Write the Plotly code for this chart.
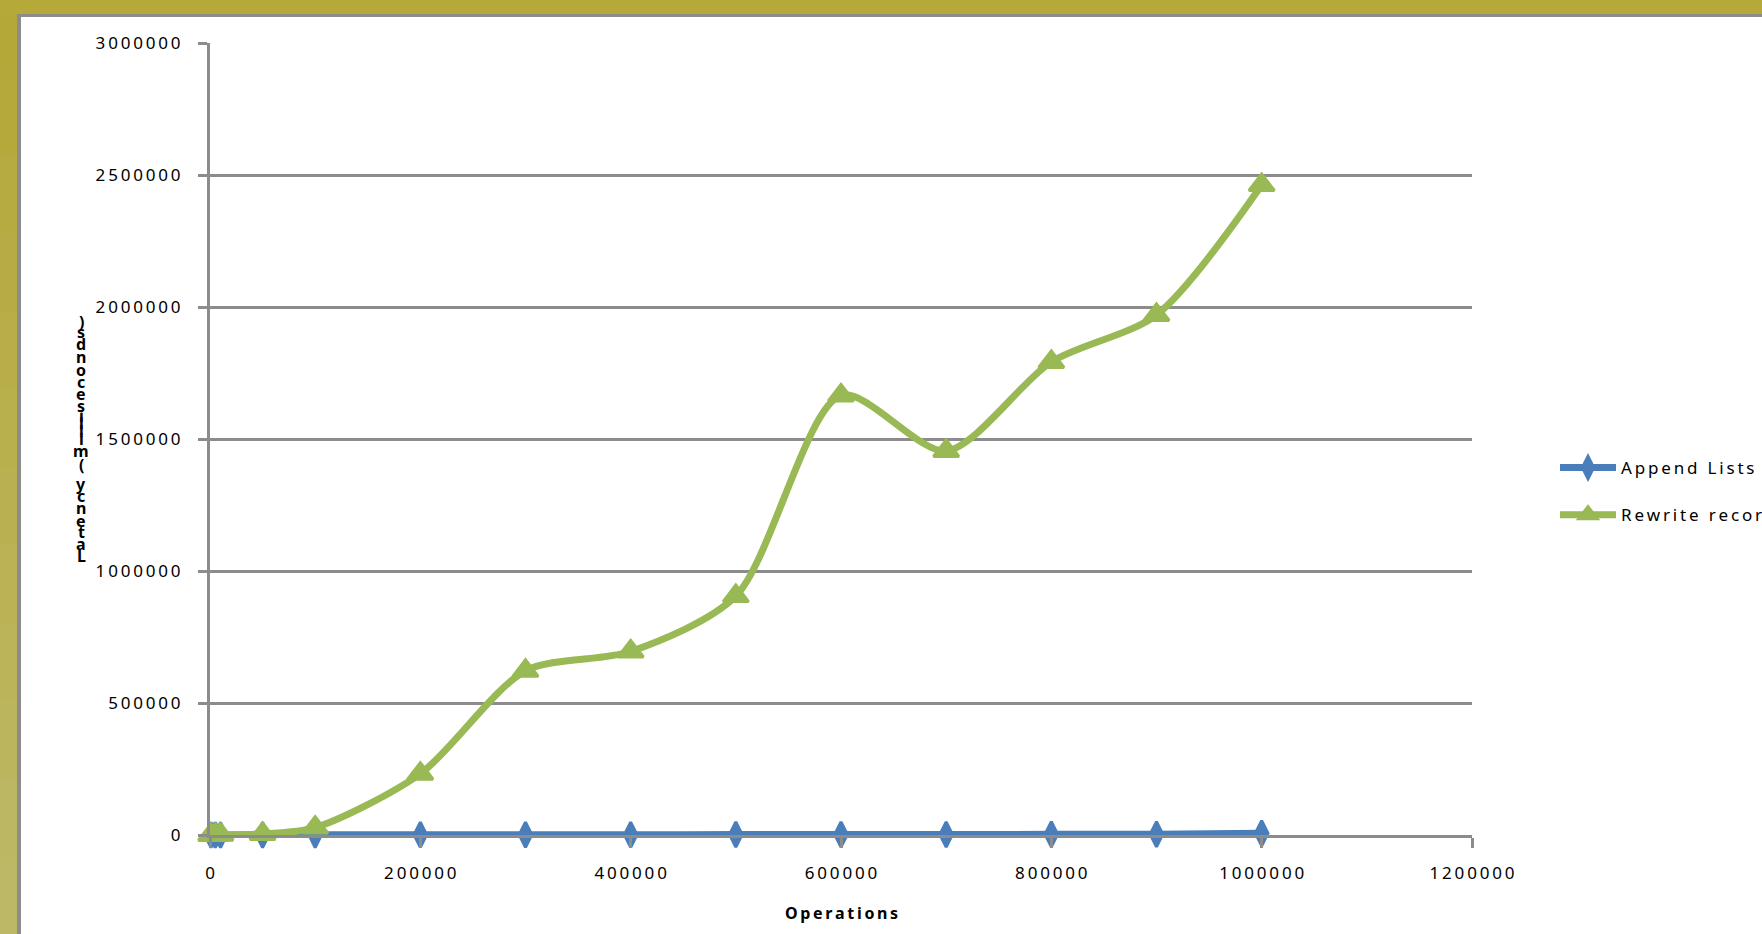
import plotly.graph_objects as go

# ---------------- data ----------------
operations = [1000, 5000, 10000, 50000, 100000, 200000, 300000, 400000,
              500000, 600000, 700000, 800000, 900000, 1000000]
append_lists = [0, 0, 0, 0, 500, 800, 1000, 1200, 1500, 1800, 2000, 2500, 3000, 7000]
rewrite_records = [0, 0, 1000, 4000, 28000, 232000, 622000, 695000, 905000,
                   1665000, 1455000, 1792000, 1970000, 2462000]
series_names = ["Append Lists", "Rewrite records"]
x_tick_vals = [0, 200000, 400000, 600000, 800000, 1000000, 1200000]
y_tick_vals = [0, 500000, 1000000, 1500000, 2000000, 2500000, 3000000]
x_title = "Operations"
y_title = "Latency (milliseconds)"

# ---------------- layout geometry ----------------
W, H = 1762, 934
ML, MR, MT, MB = 210, 290, 43, 99
PW, PH = W - ML - MR, H - MT - MB
GRAY = "#8C8C8C"
BLUE = "#4A7EBB"
GREEN = "#98B954"
FONT = "Noto Sans"


def spaced(s, sep="\u2009"):
    return sep.join(s)


def px2x(px):
    return (px - ML) / PW


def py2y(py):
    return (H - MB - py) / PH


fig = go.Figure()

fig.add_trace(go.Scatter(
    x=operations, y=append_lists, name=spaced(series_names[0]),
    mode="lines+markers", line=dict(color=BLUE, width=7, shape="spline", smoothing=0.8),
    marker=dict(symbol="diamond-tall", size=18, color=BLUE, line=dict(color=BLUE, width=3)),
    cliponaxis=False, legendgroup="a"))
fig.add_trace(go.Scatter(
    x=operations, y=rewrite_records, name=spaced(series_names[1]),
    mode="lines+markers", line=dict(color=GREEN, width=7, shape="spline", smoothing=0.8),
    marker=dict(symbol="triangle-up", size=22, color=GREEN, line=dict(color=GREEN, width=3)),
    cliponaxis=False, legendgroup="b"))

shapes = []
# left gold band with gentle gradient
top_c = (0xB4, 0xA8, 0x38)
bot_c = (0xBD, 0xB8, 0x66)
n = 12
for i in range(n):
    t = i / (n - 1)
    c = tuple(round(top_c[k] + (bot_c[k] - top_c[k]) * t) for k in range(3))
    shapes.append(dict(type="rect", xref="paper", yref="paper",
                       x0=px2x(0), x1=px2x(17),
                       y0=py2y(i * H / n), y1=py2y((i + 1) * H / n + 1),
                       fillcolor="rgb(%d,%d,%d)" % c, line=dict(width=0), layer="below"))
shapes.append(dict(type="rect", xref="paper", yref="paper",
                   x0=px2x(0), x1=px2x(W), y0=py2y(0), y1=py2y(14),
                   fillcolor="#B5A93A", line=dict(width=0), layer="below"))
shapes.append(dict(type="rect", xref="paper", yref="paper",
                   x0=px2x(17), x1=px2x(W), y0=py2y(14), y1=py2y(17),
                   fillcolor=GRAY, line=dict(width=0), layer="below"))
shapes.append(dict(type="rect", xref="paper", yref="paper",
                   x0=px2x(17), x1=px2x(21), y0=py2y(14), y1=py2y(H),
                   fillcolor=GRAY, line=dict(width=0), layer="below"))

# stacked y-axis title (characters upright, reading bottom to top)
widths = {"i": 0.2, "l": 0.2, "t": 0.33, "(": 0.3, ")": 0.3, " ": 0.25, "m": 0.8,
          "L": 0.45, "y": 0.46, "c": 0.43, "s": 0.4}
adv = [widths.get(ch, 0.52) + 0.28 for ch in y_title]
cum = [0.0]
for a in adv[:-1]:
    cum.append(cum[-1] + (a + adv[len(cum)]) / 2)
y_bottom, y_top = 556, 322
scale = (y_bottom - y_top) / cum[-1]
annotations = []
for ch, c in zip(y_title, cum):
    if ch == " ":
        continue
    annotations.append(dict(text=ch, xref="paper", yref="paper",
                            x=px2x(81), y=py2y(y_bottom - c * scale),
                            xanchor="center", yanchor="middle", showarrow=False,
                            font=dict(family=FONT, size=16, color="#000", weight="bold")))
annotations.append(dict(text=spaced(x_title), xref="paper", yref="paper",
                        x=0.5, y=py2y(913), xanchor="center", yanchor="middle",
                        showarrow=False,
                        font=dict(family=FONT, size=16, color="#000", weight="bold")))

fig.update_layout(
    width=W, height=H,
    margin=dict(l=ML, r=MR, t=MT, b=MB, autoexpand=False),
    paper_bgcolor="white", plot_bgcolor="white",
    font=dict(family=FONT, color="#000"),
    shapes=shapes, annotations=annotations,
    showlegend=True,
    legend=dict(x=px2x(1555), xanchor="left", y=py2y(450), yanchor="top",
                font=dict(family=FONT, size=17, color="#000"),
                bgcolor="rgba(0,0,0,0)", borderwidth=0,
                itemwidth=56, traceorder="grouped", tracegroupgap=22),
    xaxis=dict(range=[0, 1200000], tickvals=x_tick_vals,
               ticktext=[spaced(str(v)) for v in x_tick_vals],
               showgrid=False, zeroline=False, showline=True,
               linecolor=GRAY, linewidth=3, ticks="outside", ticklen=10,
               tickwidth=3, tickcolor=GRAY, ticklabelstandoff=11,
               tickfont=dict(family=FONT, size=17, color="#000")),
    yaxis=dict(range=[0, 3000000], tickvals=y_tick_vals,
               ticktext=[spaced(str(v)) for v in y_tick_vals],
               showgrid=True, gridcolor=GRAY, gridwidth=3, zeroline=False,
               showline=True, linecolor=GRAY, linewidth=3, ticks="outside",
               ticklen=9, tickwidth=3, tickcolor=GRAY, ticklabelstandoff=14,
               tickfont=dict(family=FONT, size=17, color="#000")),
)

fig.write_html("out.html")
